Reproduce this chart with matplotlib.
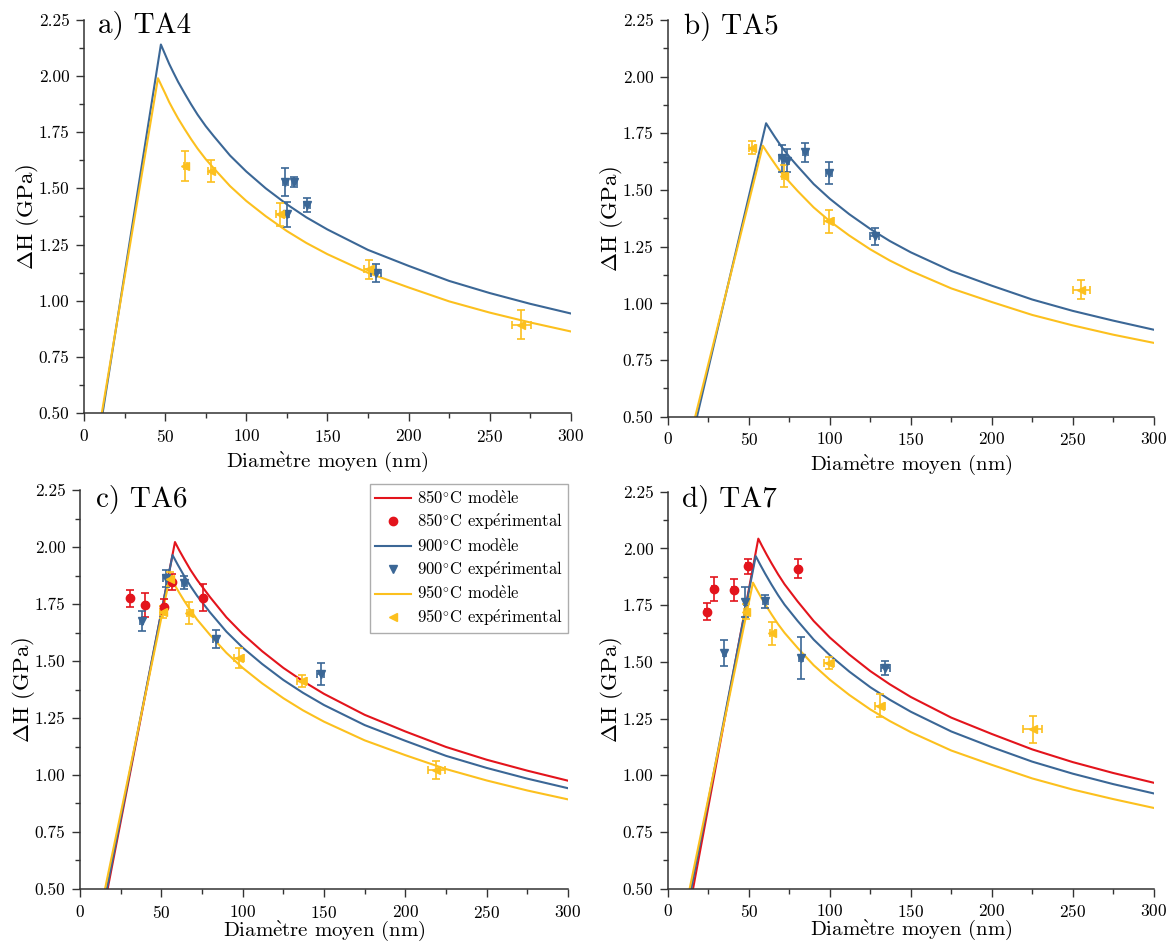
import matplotlib
matplotlib.use("Agg")
import matplotlib.pyplot as plt
from matplotlib.lines import Line2D
from matplotlib.ticker import MultipleLocator, FormatStrFormatter

# --- Fuentes: aspecto LaTeX (cmr10); acentos y grados en mathtext ---
plt.rcParams['font.family'] = ['cmr10', 'DejaVu Serif']
plt.rcParams['mathtext.fontset'] = 'cm'
plt.rcParams['axes.formatter.use_mathtext'] = True

ROJO = '#E3141C'
AZUL = '#3B6796'
AMARILLO = '#FCC01E'

# --- Datos ---
# a) TA4
ta4_900_mod_x = [11.5, 47.4, 50, 52.5, 55, 58, 62, 66, 70, 75, 80, 90, 100, 112, 125, 137, 150, 175, 200, 225, 250, 275, 300]
ta4_900_mod_y = [0.50, 2.14, 2.096, 2.054, 2.017, 1.974, 1.923, 1.874, 1.828, 1.777, 1.732, 1.646, 1.575, 1.500, 1.429, 1.371, 1.317, 1.226, 1.155, 1.088, 1.034, 0.986, 0.943]
ta4_950_mod_x = [11.0, 45.6, 48, 50, 52.5, 55, 58, 62, 66, 70, 75, 80, 90, 100, 112, 125, 137, 150, 175, 200, 225, 250, 275, 300]
ta4_950_mod_y = [0.50, 1.99, 1.953, 1.923, 1.884, 1.850, 1.811, 1.764, 1.719, 1.677, 1.630, 1.589, 1.510, 1.444, 1.376, 1.310, 1.257, 1.207, 1.124, 1.059, 0.997, 0.947, 0.903, 0.863]
ta4_900_exp_x = [124.0, 129.6, 124.8, 137.4, 179.9]
ta4_900_exp_y = [1.528, 1.528, 1.384, 1.426, 1.124]
ta4_900_exp_yerr = [0.062, 0.024, 0.055, 0.031, 0.040]
ta4_900_exp_xerr = [1.5, 1.5, 1.5, 2.0, 3.0]
ta4_950_exp_x = [62.4, 78.2, 121.1, 175.8, 269.6]
ta4_950_exp_y = [1.599, 1.577, 1.384, 1.139, 0.894]
ta4_950_exp_yerr = [0.068, 0.048, 0.052, 0.042, 0.065]
ta4_950_exp_xerr = [1.0, 2.0, 3.0, 3.0, 5.8]

# b) TA5
ta5_900_mod_x = [17.9, 60.6, 63, 66, 70, 75, 80, 90, 100, 112, 125, 137, 150, 175, 200, 225, 250, 275, 300]
ta5_900_mod_y = [0.50, 1.794, 1.767, 1.734, 1.692, 1.646, 1.605, 1.526, 1.461, 1.393, 1.328, 1.275, 1.225, 1.143, 1.078, 1.017, 0.967, 0.924, 0.884]
ta5_950_mod_x = [16.8, 58.6, 61, 64, 68, 72, 80, 90, 100, 112, 125, 137, 150, 175, 200, 225, 250, 275, 300]
ta5_950_mod_y = [0.50, 1.695, 1.668, 1.636, 1.595, 1.559, 1.496, 1.423, 1.362, 1.299, 1.238, 1.189, 1.143, 1.066, 1.006, 0.949, 0.903, 0.862, 0.826]
ta5_900_exp_x = [70.3, 73.4, 84.9, 99.6, 127.6]
ta5_900_exp_y = [1.640, 1.629, 1.666, 1.575, 1.296]
ta5_900_exp_yerr = [0.060, 0.050, 0.042, 0.049, 0.037]
ta5_900_exp_xerr = [1.5, 1.5, 1.5, 2.0, 3.0]
ta5_950_exp_x = [52.0, 71.7, 99.6, 255.2]
ta5_950_exp_y = [1.687, 1.561, 1.362, 1.060]
ta5_950_exp_yerr = [0.028, 0.050, 0.050, 0.042]
ta5_950_exp_xerr = [2.0, 1.5, 3.0, 5.3]

# c) TA6
ta6_850_mod_x = [17.0, 58.4, 61, 64, 68, 72, 80, 90, 100, 112, 125, 137, 150, 175, 200, 225, 250, 275, 300]
ta6_850_mod_y = [0.50, 2.022, 1.986, 1.948, 1.899, 1.856, 1.780, 1.692, 1.619, 1.543, 1.470, 1.412, 1.356, 1.264, 1.191, 1.123, 1.067, 1.019, 0.975]
ta6_900_mod_x = [16.5, 56.9, 60, 64, 68, 72, 80, 90, 100, 112, 125, 137, 150, 175, 200, 225, 250, 275, 300]
ta6_900_mod_y = [0.50, 1.965, 1.924, 1.874, 1.828, 1.786, 1.713, 1.629, 1.559, 1.487, 1.417, 1.361, 1.307, 1.219, 1.150, 1.084, 1.031, 0.984, 0.942]
ta6_950_mod_x = [15.4, 55.3, 58, 61, 64, 68, 72, 80, 90, 100, 112, 125, 137, 150, 175, 200, 225, 250, 275, 300]
ta6_950_mod_y = [0.50, 1.870, 1.836, 1.800, 1.765, 1.722, 1.682, 1.614, 1.536, 1.470, 1.402, 1.337, 1.284, 1.234, 1.152, 1.087, 1.026, 0.976, 0.932, 0.893]
ta6_850_exp_x = [30.9, 40.1, 51.8, 56.5, 75.8]
ta6_850_exp_y = [1.775, 1.747, 1.738, 1.848, 1.778]
ta6_850_exp_yerr = [0.038, 0.053, 0.033, 0.035, 0.060]
ta6_850_exp_xerr = [1.0, 1.0, 1.0, 1.0, 1.0]
ta6_900_exp_x = [37.9, 52.8, 64.1, 83.4, 147.9]
ta6_900_exp_y = [1.677, 1.863, 1.844, 1.597, 1.442]
ta6_900_exp_yerr = [0.044, 0.037, 0.030, 0.038, 0.048]
ta6_900_exp_xerr = [1.0, 1.5, 1.5, 1.5, 2.0]
ta6_950_exp_x = [50.8, 55.5, 67.2, 97.7, 136.4, 219.1]
ta6_950_exp_y = [1.716, 1.860, 1.712, 1.512, 1.414, 1.022]
ta6_950_exp_yerr = [0.026, 0.030, 0.049, 0.044, 0.026, 0.039]
ta6_950_exp_xerr = [1.5, 1.0, 1.5, 3.0, 3.0, 5.0]

# d) TA7
ta7_850_mod_x = [15.5, 55.8, 58, 61, 64, 68, 72, 80, 90, 100, 112, 125, 137, 150, 175, 200, 225, 250, 275, 300]
ta7_850_mod_y = [0.50, 2.043, 2.012, 1.972, 1.934, 1.886, 1.842, 1.767, 1.680, 1.607, 1.532, 1.459, 1.401, 1.345, 1.254, 1.182, 1.114, 1.058, 1.010, 0.967]
ta7_900_mod_x = [14.4, 54.2, 57, 60, 64, 68, 72, 80, 90, 100, 112, 125, 137, 150, 175, 200, 225, 250, 275, 300]
ta7_900_mod_y = [0.50, 1.966, 1.928, 1.889, 1.840, 1.794, 1.752, 1.681, 1.598, 1.529, 1.457, 1.388, 1.333, 1.280, 1.193, 1.124, 1.060, 1.007, 0.961, 0.920]
ta7_950_mod_x = [13.4, 52.5, 55, 58, 61, 64, 68, 72, 80, 90, 100, 112, 125, 137, 150, 175, 200, 225, 250, 275, 300]
ta7_950_mod_y = [0.50, 1.849, 1.816, 1.778, 1.743, 1.709, 1.666, 1.628, 1.562, 1.485, 1.421, 1.354, 1.290, 1.239, 1.190, 1.109, 1.046, 0.986, 0.937, 0.895, 0.856]
ta7_850_exp_x = [24.1, 28.4, 40.8, 49.5, 80.6]
ta7_850_exp_y = [1.721, 1.821, 1.815, 1.921, 1.911]
ta7_850_exp_yerr = [0.038, 0.054, 0.048, 0.034, 0.041]
ta7_850_exp_xerr = [1.0, 1.0, 1.0, 1.0, 1.0]
ta7_900_exp_x = [34.8, 47.8, 60.2, 82.2, 134.3]
ta7_900_exp_y = [1.537, 1.765, 1.767, 1.518, 1.473]
ta7_900_exp_yerr = [0.057, 0.066, 0.028, 0.092, 0.032]
ta7_900_exp_xerr = [1.0, 1.0, 1.5, 1.5, 3.0]
ta7_950_exp_x = [48.4, 64.5, 99.3, 130.8, 225.2]
ta7_950_exp_y = [1.721, 1.626, 1.496, 1.307, 1.202]
ta7_950_exp_yerr = [0.033, 0.051, 0.026, 0.051, 0.061]
ta7_950_exp_xerr = [1.5, 1.5, 3.0, 3.0, 5.8]

# --- Figura ---
fig = plt.figure(figsize=(11.76, 9.43), dpi=100)
ax_a = fig.add_axes([0.0714, 0.562, 0.414, 0.417])
ax_b = fig.add_axes([0.568, 0.558, 0.413, 0.421])
ax_c = fig.add_axes([0.068, 0.0573, 0.415, 0.423])
ax_d = fig.add_axes([0.568, 0.0576, 0.413, 0.421])


def modelo(ax, x, y, color):
    ax.plot(x, y, color=color, lw=1.5, zorder=2)


def experimental(ax, x, y, xerr, yerr, color, marker):
    ax.errorbar(x, y, xerr=xerr, yerr=yerr, fmt=marker, color=color, ms=6,
                mec=color, elinewidth=1.2, capsize=2.6, capthick=1.2, zorder=3)


def ejes(ax, titulo, tx, ty, pad_x):
    ax.set_xlim(0, 300)
    ax.set_ylim(0.5, 2.25)
    for s in ['top', 'right']:
        ax.spines[s].set_visible(False)
    for s in ['left', 'bottom']:
        ax.spines[s].set_linewidth(1.1)
        ax.spines[s].set_color('#333333')
    ax.xaxis.set_major_locator(MultipleLocator(50))
    ax.xaxis.set_minor_locator(MultipleLocator(25))
    ax.yaxis.set_major_locator(MultipleLocator(0.25))
    ax.yaxis.set_minor_locator(MultipleLocator(0.125))
    ax.yaxis.set_major_formatter(FormatStrFormatter('%.2f'))
    ax.tick_params(which='major', direction='out', length=6, width=1.0, labelsize=12.5,
                   color='#333333', pad=4.5)
    ax.tick_params(which='minor', direction='out', length=3.5, width=1.0, color='#333333')
    ax.set_xlabel(r'Diam$\grave{\rm e}$tre moyen (nm)', fontsize=15, labelpad=pad_x)
    ax.set_ylabel(r'$\Delta$H (GPa)', fontsize=16.5, labelpad=-2)
    ax.text(tx, ty, titulo, transform=ax.transAxes, fontsize=21, va='baseline', ha='left')


# a) TA4
modelo(ax_a, ta4_900_mod_x, ta4_900_mod_y, AZUL)
modelo(ax_a, ta4_950_mod_x, ta4_950_mod_y, AMARILLO)
experimental(ax_a, ta4_900_exp_x, ta4_900_exp_y, ta4_900_exp_xerr, ta4_900_exp_yerr, AZUL, 'v')
experimental(ax_a, ta4_950_exp_x, ta4_950_exp_y, ta4_950_exp_xerr, ta4_950_exp_yerr, AMARILLO, '<')
ejes(ax_a, 'a) TA4', 0.029, 0.966, 3.5)

# b) TA5
modelo(ax_b, ta5_900_mod_x, ta5_900_mod_y, AZUL)
modelo(ax_b, ta5_950_mod_x, ta5_950_mod_y, AMARILLO)
experimental(ax_b, ta5_900_exp_x, ta5_900_exp_y, ta5_900_exp_xerr, ta5_900_exp_yerr, AZUL, 'v')
experimental(ax_b, ta5_950_exp_x, ta5_950_exp_y, ta5_950_exp_xerr, ta5_950_exp_yerr, AMARILLO, '<')
ejes(ax_b, 'b) TA5', 0.032, 0.964, 3.5)

# c) TA6
modelo(ax_c, ta6_850_mod_x, ta6_850_mod_y, ROJO)
modelo(ax_c, ta6_900_mod_x, ta6_900_mod_y, AZUL)
modelo(ax_c, ta6_950_mod_x, ta6_950_mod_y, AMARILLO)
experimental(ax_c, ta6_850_exp_x, ta6_850_exp_y, ta6_850_exp_xerr, ta6_850_exp_yerr, ROJO, 'o')
experimental(ax_c, ta6_900_exp_x, ta6_900_exp_y, ta6_900_exp_xerr, ta6_900_exp_yerr, AZUL, 'v')
experimental(ax_c, ta6_950_exp_x, ta6_950_exp_y, ta6_950_exp_xerr, ta6_950_exp_yerr, AMARILLO, '<')
ejes(ax_c, 'c) TA6', 0.033, 0.957, -1.5)

# d) TA7
modelo(ax_d, ta7_850_mod_x, ta7_850_mod_y, ROJO)
modelo(ax_d, ta7_900_mod_x, ta7_900_mod_y, AZUL)
modelo(ax_d, ta7_950_mod_x, ta7_950_mod_y, AMARILLO)
experimental(ax_d, ta7_850_exp_x, ta7_850_exp_y, ta7_850_exp_xerr, ta7_850_exp_yerr, ROJO, 'o')
experimental(ax_d, ta7_900_exp_x, ta7_900_exp_y, ta7_900_exp_xerr, ta7_900_exp_yerr, AZUL, 'v')
experimental(ax_d, ta7_950_exp_x, ta7_950_exp_y, ta7_950_exp_xerr, ta7_950_exp_yerr, AMARILLO, '<')
ejes(ax_d, 'd) TA7', 0.029, 0.961, -1.5)

# --- Leyenda (solo en c) ---
handles = [
    Line2D([], [], color=ROJO, lw=1.5),
    Line2D([], [], color=ROJO, marker='o', ls='none', ms=6),
    Line2D([], [], color=AZUL, lw=1.5),
    Line2D([], [], color=AZUL, marker='v', ls='none', ms=6),
    Line2D([], [], color=AMARILLO, lw=1.5),
    Line2D([], [], color=AMARILLO, marker='<', ls='none', ms=6),
]
labels = [r'850$^{\circ}$C mod$\grave{\rm e}$le', r'850$^{\circ}$C exp$\acute{\rm e}$rimental',
          r'900$^{\circ}$C mod$\grave{\rm e}$le', r'900$^{\circ}$C exp$\acute{\rm e}$rimental',
          r'950$^{\circ}$C mod$\grave{\rm e}$le', r'950$^{\circ}$C exp$\acute{\rm e}$rimental']
leg = ax_c.legend(handles, labels, loc='upper right', bbox_to_anchor=(1.0, 1.015),
                  fontsize=12, frameon=True, fancybox=False, edgecolor='#999999',
                  handlelength=2.2, handletextpad=0.35, labelspacing=0.3,
                  borderpad=0.3, borderaxespad=0.0)
leg.get_frame().set_linewidth(1.0)

fig.savefig('out.png', dpi=100)
